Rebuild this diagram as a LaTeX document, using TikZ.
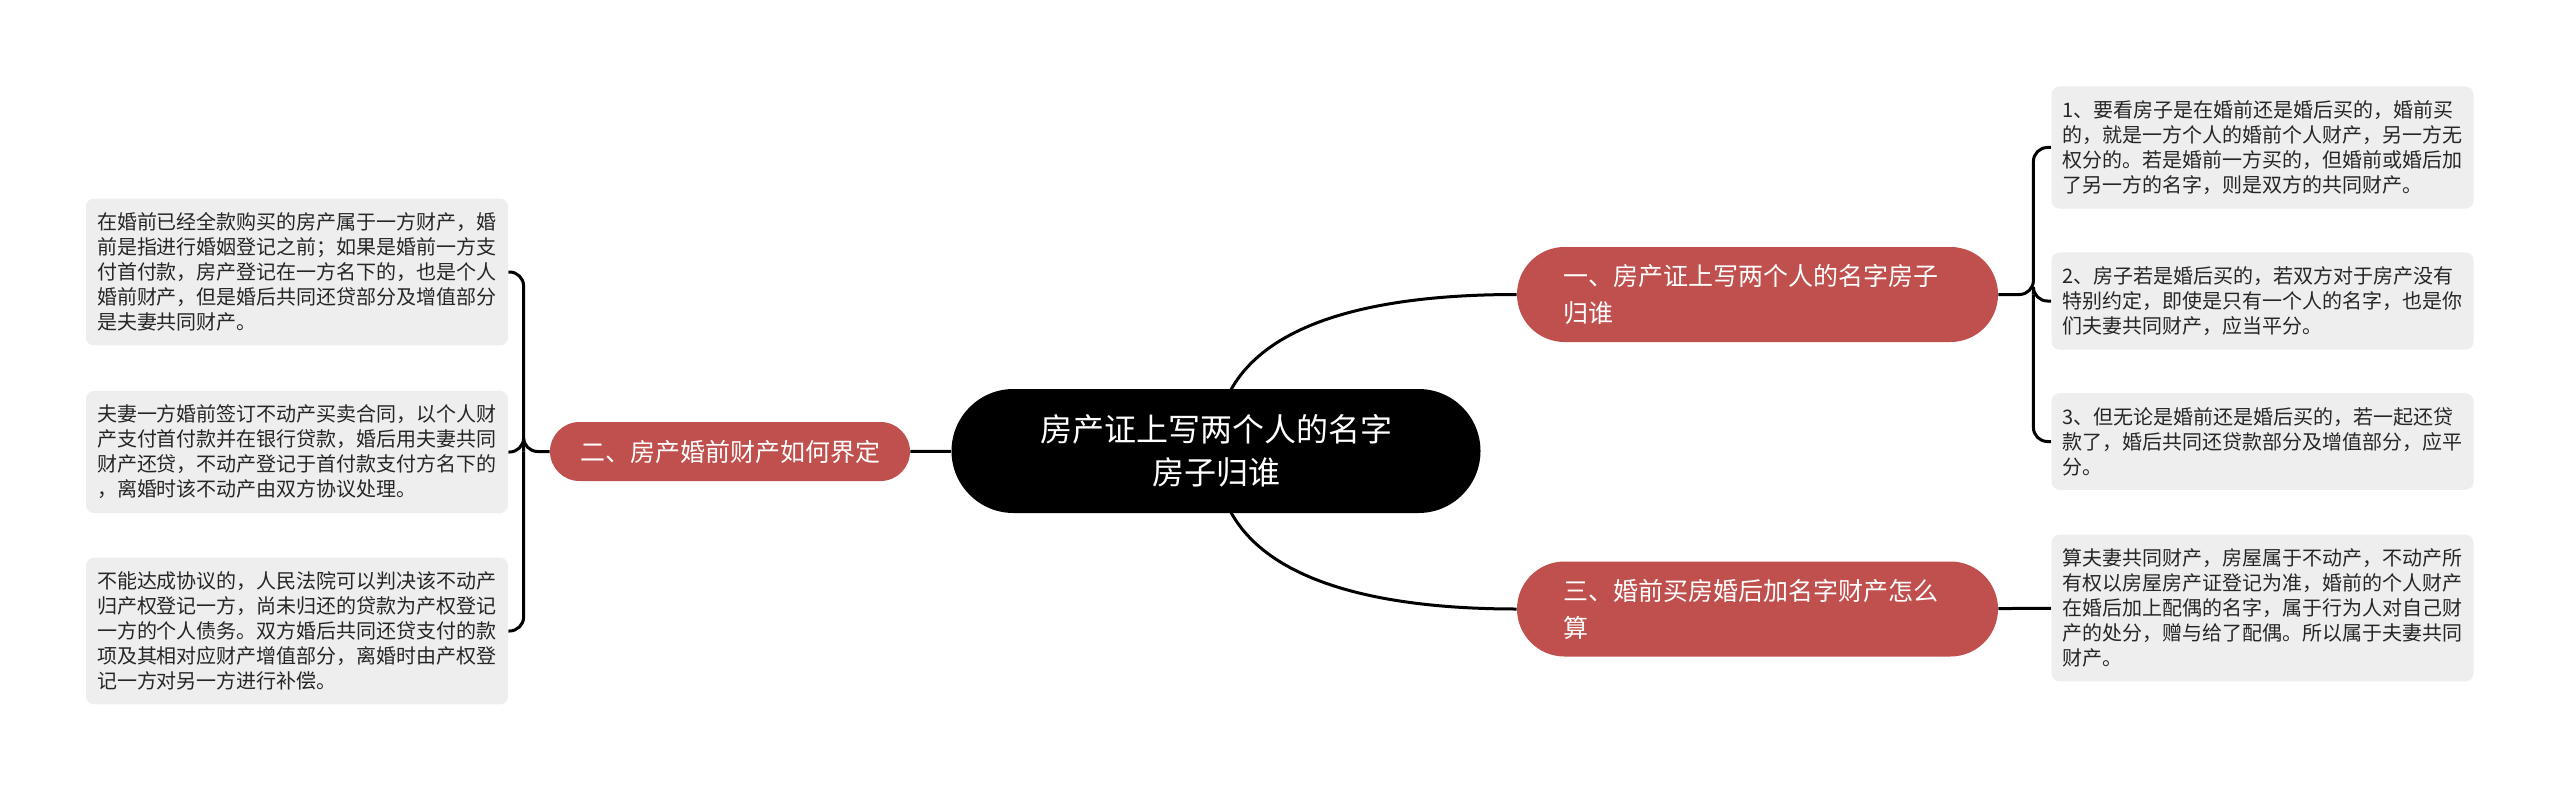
\documentclass[tikz,border=0pt]{standalone}
\usepackage{fontspec}
\newfontfamily\cjk{Noto Sans CJK SC}
\usepackage{tikz}
\usetikzlibrary{positioning}
\usetikzlibrary{backgrounds}
\definecolor{branchred}{RGB}{192,80,77}
\definecolor{leafgray}{RGB}{238,238,238}
\tikzstyle{root}=[fill=black,text=white,rounded corners=31pt,minimum width=264.5pt,minimum height=62pt,align=center,font=\cjk\fontsize{16pt}{21.5pt}\selectfont]
\tikzstyle{branch}=[fill=branchred,text=white,rounded corners=23.75pt,minimum height=47.5pt,text width=194.5pt,inner xsep=23pt,align=left,font=\cjk\fontsize{12.5pt}{18.5pt}\selectfont]
\tikzstyle{leaf}=[fill=leafgray,text=black!85,rounded corners=4pt,text width=200pt,inner xsep=5.5pt,inner ysep=7pt,align=left,font=\cjk\fontsize{10pt}{12.5pt}\selectfont]
\tikzstyle{link}=[line width=1.5pt,rounded corners=7pt]

\begin{document}
\begin{tikzpicture}[x=0.5pt,y=-0.5pt]
\useasboundingbox (0,0) rectangle (2560,792);

\node [root] (root) at (1216,451) {房产证上写两个人的名字\\房子归谁};

\node [branch] (b1) at (1757.5,294.5) {一、房产证上写两个人的名字房子\\归谁};
\node [fill=branchred,text=white,rounded corners=14.75pt,inner xsep=15pt,minimum height=29.5pt,font=\cjk\fontsize{12.5pt}{18.5pt}\selectfont] (b2) at (730,451.5) {二、房产婚前财产如何界定};
\node [branch] (b3) at (1757.5,609) {三、婚前买房婚后加名字财产怎么\\算};

\node [leaf] (r1) at (2262.5,147.5) {1、要看房子是在婚前还是婚后买的，婚前买\\的，就是一方个人的婚前个人财产，另一方无\\权分的。若是婚前一方买的，但婚前或婚后加\\了另一方的名字，则是双方的共同财产。};
\node [leaf] (r2) at (2262.5,301) {2、房子若是婚后买的，若双方对于房产没有\\特别约定，即使是只有一个人的名字，也是你\\们夫妻共同财产，应当平分。};
\node [leaf] (r3) at (2262.5,441.5) {3、但无论是婚前还是婚后买的，若一起还贷\\款了，婚后共同还贷款部分及增值部分，应平\\分。};
\node [leaf] (r4) at (2262.5,608) {算夫妻共同财产，房屋属于不动产，不动产所\\有权以房屋房产证登记为准，婚前的个人财产\\在婚后加上配偶的名字，属于行为人对自己财\\产的处分，赠与给了配偶。所以属于夫妻共同\\财产。};

\node [leaf] (l1) at (297,272) {在婚前已经全款购买的房产属于一方财产，婚\\前是指进行婚姻登记之前；如果是婚前一方支\\付首付款，房产登记在一方名下的，也是个人\\婚前财产，但是婚后共同还贷部分及增值部分\\是夫妻共同财产。};
\node [leaf] (l2) at (297,452) {夫妻一方婚前签订不动产买卖合同，以个人财\\产支付首付款并在银行贷款，婚后用夫妻共同\\财产还贷，不动产登记于首付款支付方名下的\\，离婚时该不动产由双方协议处理。};
\node [leaf] (l3) at (297,631) {不能达成协议的，人民法院可以判决该不动产\\归产权登记一方，尚未归还的贷款为产权登记\\一方的个人债务。双方婚后共同还贷支付的款\\项及其相对应财产增值部分，离婚时由产权登\\记一方对另一方进行补偿。};

\coordinate [right=17.5pt of b1] (j1);
\coordinate [left=13pt of b2] (j2);

\begin{scope}[on background layer]
\fill [white] (0,0) rectangle (2560,792);
\draw [link] (root.center) to[out=90,in=180] (b1.west);
\draw [link] (root.center) to[out=-90,in=180] (b3.west);
\draw [link] (root) -- (b2);
\draw [link] (b1) -- (j1) |- (r1.west);
\draw [link] (j1) |- (r2.west);
\draw [link] (j1) |- (r3.west);
\draw [link] (b3) -- (r4);
\draw [link] (b2) -- (j2) |- (l1.east);
\draw [link] (j2) |- (l2.east);
\draw [link] (j2) |- (l3.east);
\end{scope}
\end{tikzpicture}
\end{document}
